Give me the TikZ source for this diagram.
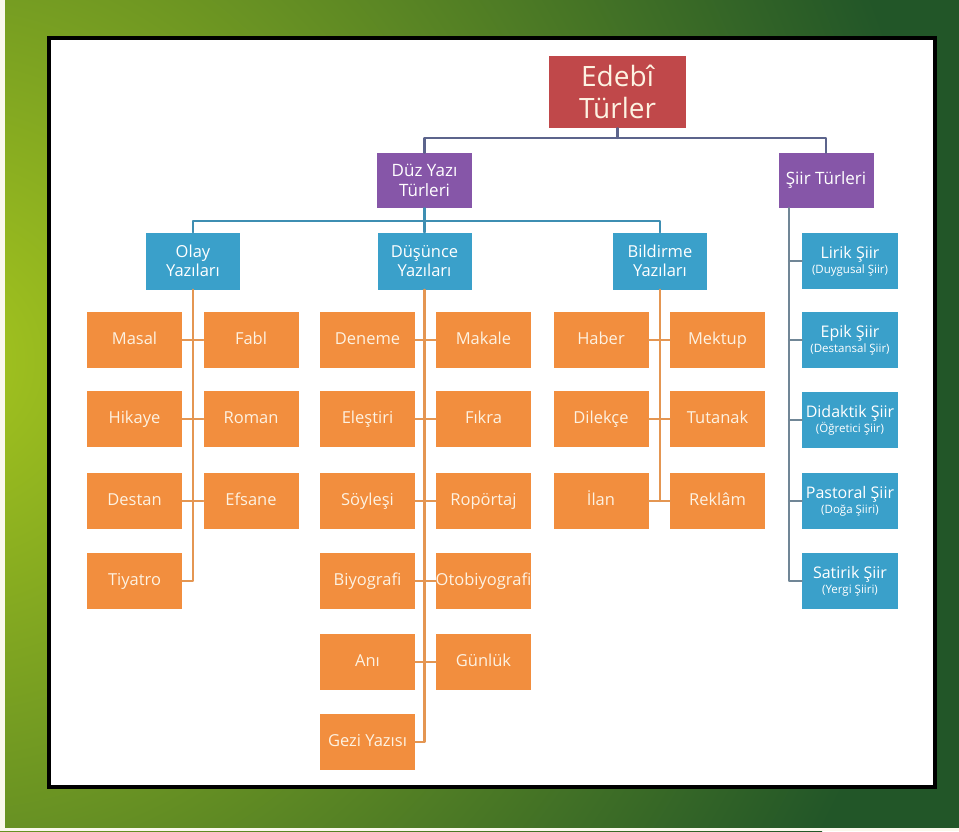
\documentclass[tikz,border=0pt]{standalone}
\usepackage{fontspec}
\setmainfont{Open Sans}
\usepackage{tikz}
\definecolor{edred}{RGB}{192,72,74}
\definecolor{edpurple}{RGB}{134,86,168}
\definecolor{edblue}{RGB}{58,160,202}
\definecolor{edorange}{RGB}{242,142,62}
\definecolor{edcream}{RGB}{253,242,226}
\definecolor{lnslate}{RGB}{92,100,140}
\definecolor{lnblue}{RGB}{62,142,178}
\definecolor{lnorange}{RGB}{228,150,82}
\definecolor{lngray}{RGB}{112,134,150}
\definecolor{glime}{RGB}{166,198,30}
\definecolor{gdark}{RGB}{34,86,40}
\definecolor{gpaper}{RGB}{250,248,236}
\tikzstyle{box}=[rectangle,inner sep=0pt,align=center]
\tikzstyle{rootbox}=[box,fill=edred,text=edcream,minimum width=137,minimum height=72,font=\fontsize{28}{32}\selectfont]
\tikzstyle{kindbox}=[box,fill=edpurple,text=white,minimum width=95,minimum height=55,font=\fontsize{17}{20}\selectfont]
\tikzstyle{groupbox}=[box,fill=edblue,text=white,minimum width=94,minimum height=57,font=\fontsize{16.5}{19}\selectfont]
\tikzstyle{leafbox}=[box,fill=edorange,text=edcream,minimum width=95,minimum height=56,text height=12,text depth=4,font=\fontsize{16.5}{18}\selectfont]
\tikzstyle{poembox}=[box,fill=edblue,text=white,minimum width=96,minimum height=56,font=\fontsize{16}{16}\selectfont]
\tikzstyle{link}=[line width=2.2pt]
\newcommand{\poemsub}[1]{\\[-1pt]{\fontsize{11.5}{13}\selectfont(#1)}}

\begin{document}
\begin{tikzpicture}[line cap=round,line join=round,x=1pt,y=-1pt]
\clip(0,0) rectangle (959,831);
\fill[gdark] (0,0) rectangle (959,831);
\shade[inner color=glime,outer color=gdark] (-60,360) circle (1000);
\fill[gpaper] (0,0) rectangle (5,831);
\fill[gpaper] (0,828) rectangle (959,831);
\fill[black] (47,36) rectangle (937,789);
\fill[white] (51,40) rectangle (933,785);

\node[rootbox] (edebi) at (617.5,92) {Edebî\\Türler};
\node[kindbox] (duz) at (424.5,180.5) {Düz Yazı\\Türleri};
\node[kindbox] (siir) at (826,180.5) {Şiir Türleri};

\node[groupbox] (olay) at (193,261) {Olay\\Yazıları};
\node[groupbox] (dus) at (424.5,261) {Düşünce\\Yazıları};
\node[groupbox] (bild) at (660,261) {Bildirme\\Yazıları};

\node[leafbox] (masal) at (134.5,340) {Masal};
\node[leafbox] (fabl) at (251,340) {Fabl};
\node[leafbox] (hikaye) at (134.5,419) {Hikaye};
\node[leafbox] (roman) at (251,419) {Roman};
\node[leafbox] (destan) at (134.5,501) {Destan};
\node[leafbox] (efsane) at (251,501) {Efsane};
\node[leafbox] (tiyatro) at (134.5,581) {Tiyatro};

\node[leafbox] (deneme) at (367.5,340) {Deneme};
\node[leafbox] (makale) at (483.5,340) {Makale};
\node[leafbox] (elestiri) at (367.5,419) {Eleştiri};
\node[leafbox] (fikra) at (483.5,419) {Fıkra};
\node[leafbox] (soylesi) at (367.5,501) {Söyleşi};
\node[leafbox] (roportaj) at (483.5,501) {Ropörtaj};
\node[leafbox] (biyografi) at (367.5,581) {Biyografi};
\node[leafbox] (otobiyografi) at (483.5,581) {Otobiyografi};
\node[leafbox] (ani) at (367.5,662) {Anı};
\node[leafbox] (gunluk) at (483.5,662) {Günlük};
\node[leafbox] (gezi) at (367.5,742) {Gezi Yazısı};

\node[leafbox] (haber) at (601,340) {Haber};
\node[leafbox] (mektup) at (717.5,340) {Mektup};
\node[leafbox] (dilekce) at (601,419) {Dilekçe};
\node[leafbox] (tutanak) at (717.5,419) {Tutanak};
\node[leafbox] (ilan) at (601,501) {İlan};
\node[leafbox] (reklam) at (717.5,501) {Reklâm};

\node[poembox] (lirik) at (850,261) {Lirik Şiir\poemsub{Duygusal Şiir}};
\node[poembox] (epik) at (850,340) {Epik Şiir\poemsub{Destansal Şiir}};
\node[poembox] (didaktik) at (850,420) {Didaktik Şiir\poemsub{Öğretici Şiir}};
\node[poembox] (pastoral) at (850,501) {Pastoral Şiir\poemsub{Doğa Şiiri}};
\node[poembox] (satirik) at (850,581) {Satirik Şiir\poemsub{Yergi Şiiri}};

\coordinate (j1) at (617.5,138);
\coordinate (j2) at (424.5,221);
\coordinate (s0) at (789,208);

\draw[link,lnslate] (edebi.south) -- (j1);
\draw[link,lnslate] (duz.north) |- (j1) -| (siir.north);
\draw[link,lnblue] (duz.south) -- (dus.north);
\draw[link,lnblue] (olay.north) |- (j2) -| (bild.north);

\draw[link,lnorange] (olay.south) |- (tiyatro.east);
\draw[link,lnorange] (masal.east) -- (fabl.west);
\draw[link,lnorange] (hikaye.east) -- (roman.west);
\draw[link,lnorange] (destan.east) -- (efsane.west);

\draw[link,lnorange] (dus.south) |- (gezi.east);
\draw[link,lnorange] (deneme.east) -- (makale.west);
\draw[link,lnorange] (elestiri.east) -- (fikra.west);
\draw[link,lnorange] (soylesi.east) -- (roportaj.west);
\draw[link,lnorange] (biyografi.east) -- (otobiyografi.west);
\draw[link,lnorange] (ani.east) -- (gunluk.west);

\draw[link,lnorange] (bild.south) -- (bild.south |- ilan.east);
\draw[link,lnorange] (haber.east) -- (mektup.west);
\draw[link,lnorange] (dilekce.east) -- (tutanak.west);
\draw[link,lnorange] (ilan.east) -- (reklam.west);

\draw[link,lngray] (s0) |- (satirik.west);
\foreach \n in {lirik,epik,didaktik,pastoral}
  \draw[link,lngray] (s0 |- \n.west) -- (\n.west);
\end{tikzpicture}
\end{document}
